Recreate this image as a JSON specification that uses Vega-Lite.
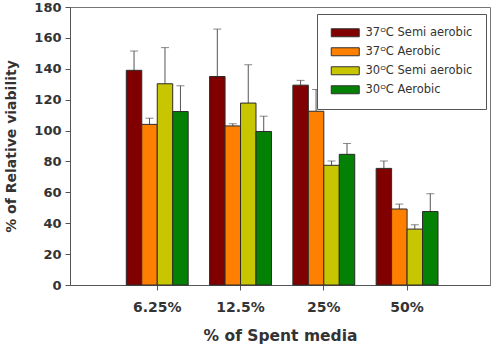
{
  "$schema": "https://vega.github.io/schema/vega-lite/v6.json",
  "autosize": "none",
  "width": 420,
  "height": 278,
  "padding": {"left": 70, "top": 7, "right": 9, "bottom": 62},
  "background": "white",
  "config": {
    "view": {"stroke": "#777", "strokeWidth": 1},
    "axis": {
      "labelFont": "DejaVu Sans",
      "labelFontWeight": "bold",
      "labelColor": "#333",
      "titleFont": "DejaVu Sans",
      "titleFontWeight": "bold",
      "titleColor": "#333",
      "domainColor": "#555",
      "tickColor": "#555",
      "tickSize": 5,
      "grid": false
    }
  },
  "data": {
    "values": [
      {"media": "6.25%", "condition": "37ᴼC Semi aerobic", "value": 139, "upper": 151.5},
      {"media": "6.25%", "condition": "37ᴼC Aerobic", "value": 104, "upper": 108},
      {"media": "6.25%", "condition": "30ᴼC Semi aerobic", "value": 130.3, "upper": 153.7},
      {"media": "6.25%", "condition": "30ᴼC Aerobic", "value": 112.3, "upper": 129},
      {"media": "12.5%", "condition": "37ᴼC Semi aerobic", "value": 135, "upper": 165.7},
      {"media": "12.5%", "condition": "37ᴼC Aerobic", "value": 103, "upper": 104.4},
      {"media": "12.5%", "condition": "30ᴼC Semi aerobic", "value": 117.8, "upper": 142.6},
      {"media": "12.5%", "condition": "30ᴼC Aerobic", "value": 99.4, "upper": 109.3},
      {"media": "25%", "condition": "37ᴼC Semi aerobic", "value": 129.4, "upper": 132.5},
      {"media": "25%", "condition": "37ᴼC Aerobic", "value": 112.5, "upper": 126.6},
      {"media": "25%", "condition": "30ᴼC Semi aerobic", "value": 77.5, "upper": 80.3},
      {"media": "25%", "condition": "30ᴼC Aerobic", "value": 84.6, "upper": 91.6},
      {"media": "50%", "condition": "37ᴼC Semi aerobic", "value": 75.5, "upper": 80.3},
      {"media": "50%", "condition": "37ᴼC Aerobic", "value": 49.2, "upper": 52.4},
      {"media": "50%", "condition": "30ᴼC Semi aerobic", "value": 36.2, "upper": 39},
      {"media": "50%", "condition": "30ᴼC Aerobic", "value": 47.6, "upper": 59.1}
    ]
  },
  "encoding": {
    "x": {
      "field": "media",
      "type": "nominal",
      "sort": ["6.25%", "12.5%", "25%", "50%"],
      "scale": {"paddingInner": 0.257, "paddingOuter": 0.65, "align": 0.52},
      "axis": {
        "title": "% of Spent media",
        "labelAngle": 0,
        "labelFontSize": 14,
        "labelPadding": 10,
        "titleFontSize": 15.5,
        "titlePadding": 14
      }
    },
    "xOffset": {
      "field": "condition",
      "type": "nominal",
      "sort": ["37ᴼC Semi aerobic", "37ᴼC Aerobic", "30ᴼC Semi aerobic", "30ᴼC Aerobic"],
      "scale": {"paddingInner": 0, "paddingOuter": 0}
    },
    "y": {
      "field": "value",
      "type": "quantitative",
      "scale": {"domain": [0, 180], "nice": false},
      "axis": {
        "title": "% of Relative viability",
        "values": [0, 20, 40, 60, 80, 100, 120, 140, 160, 180],
        "labelFontSize": 13,
        "labelPadding": 4,
        "titleFontSize": 14,
        "titlePadding": 15
      }
    }
  },
  "layer": [
    {
      "mark": {"type": "rule", "color": "#555", "strokeWidth": 1},
      "encoding": {"y2": {"field": "upper"}}
    },
    {
      "mark": {"type": "bar", "stroke": "#2b2b2b", "strokeWidth": 1},
      "encoding": {
        "fill": {
          "field": "condition",
          "type": "nominal",
          "scale": {
            "domain": ["37ᴼC Semi aerobic", "37ᴼC Aerobic", "30ᴼC Semi aerobic", "30ᴼC Aerobic"],
            "range": ["#800000", "#ff8000", "#c8c600", "#048004"]
          },
          "legend": {
            "title": null,
            "orient": "none",
            "legendX": 247,
            "legendY": 7,
            "padding": 13,
            "strokeColor": "#555",
            "fillColor": "white",
            "symbolType": "M-1.125,-1H5.875V1H-1.125Z",
            "symbolSize": 64,
            "symbolStrokeColor": "#333",
            "symbolStrokeWidth": 1,
            "labelOffset": 24,
            "labelFont": "DejaVu Sans",
            "labelFontSize": 11.5,
            "labelColor": "#333",
            "rowPadding": 6
          }
        }
      }
    },
    {
      "mark": {"type": "tick", "color": "#555", "thickness": 1, "size": 8, "orient": "horizontal"},
      "encoding": {"y": {"field": "upper", "type": "quantitative"}}
    }
  ]
}
